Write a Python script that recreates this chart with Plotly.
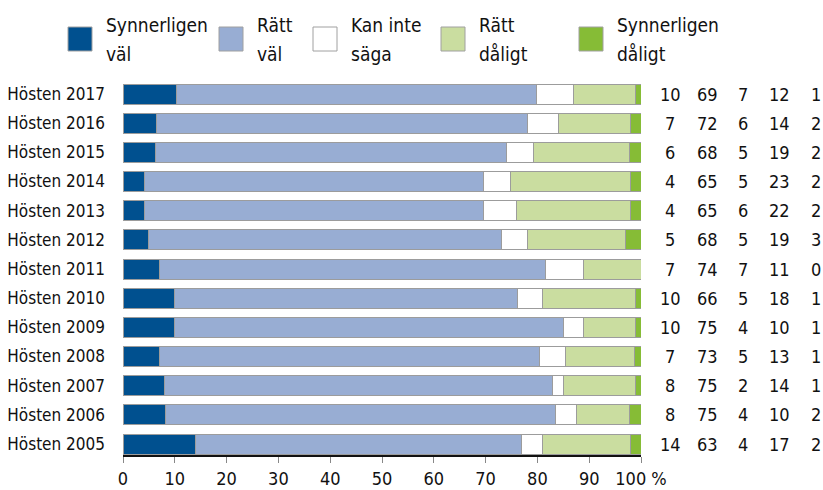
import plotly.graph_objects as go

# ---- data ----
categories = ["Hösten 2017", "Hösten 2016", "Hösten 2015", "Hösten 2014", "Hösten 2013",
              "Hösten 2012", "Hösten 2011", "Hösten 2010", "Hösten 2009", "Hösten 2008",
              "Hösten 2007", "Hösten 2006", "Hösten 2005"]
series_names = ["Synnerligen<br>väl", "Rätt<br>väl", "Kan inte<br>säga", "Rätt<br>dåligt", "Synnerligen<br>dåligt"]

# bar lengths (unrounded shares)
synnerligen_val = [10.3, 6.5, 6.3, 4.2, 4.2, 4.9, 7.1, 9.95, 9.95, 7.1, 8.0, 8.2, 13.9]
ratt_val        = [69.5, 71.5, 67.8, 65.4, 65.4, 68.1, 74.5, 66.2, 75.0, 73.3, 75.0, 75.3, 63.1]
kan_inte_saga   = [7.1, 6.0, 5.1, 5.3, 6.4, 5.0, 7.3, 4.9, 4.0, 5.1, 2.0, 4.1, 4.0]
ratt_daligt     = [12.0, 14.0, 18.5, 23.0, 21.9, 19.0, 11.1, 17.9, 10.0, 13.2, 13.9, 10.2, 16.9]
synnerligen_dal = [1.1, 2.0, 2.3, 2.1, 2.1, 3.0, 0.0, 1.1, 1.1, 1.3, 1.1, 2.3, 2.1]

# printed (rounded) values in the right-hand table
label_sv = [10, 7, 6, 4, 4, 5, 7, 10, 10, 7, 8, 8, 14]
label_rv = [69, 72, 68, 65, 65, 68, 74, 66, 75, 73, 75, 75, 63]
label_ki = [7, 6, 5, 5, 6, 5, 7, 5, 4, 5, 2, 4, 4]
label_rd = [12, 14, 19, 23, 22, 19, 11, 18, 10, 13, 14, 10, 17]
label_sd = [1, 2, 2, 2, 2, 3, 0, 1, 1, 1, 1, 2, 2]

x_tickvals = [0, 10, 20, 30, 40, 50, 60, 70, 80, 90, 100]
x_ticktext = ["0", "10", "20", "30", "40", "50", "60", "70", "80", "90", "100 %"]

# ---- styling ----
colors = ["#00508f", "#98add3", "#ffffff", "#cadda0", "#86bc36"]
FONT = "DejaVu Sans Condensed, Liberation Sans Narrow, Arial Narrow, sans-serif"
FS = 18
W, H = 823, 490
L, R, T, B = 123, 182, 80, 35
PW, PH = W - L - R, H - T - B


def px_x(px):
    return (px - L) / PW


def px_y(py):
    return (H - B - py) / PH


bar_series = [synnerligen_val, ratt_val, kan_inte_saga, ratt_daligt, synnerligen_dal]
label_series = [label_sv, label_rv, label_ki, label_rd, label_sd]

fig = go.Figure()
for name, vals, col in zip(series_names, bar_series, colors):
    fig.add_trace(go.Bar(
        y=categories, x=vals, orientation="h", name=name,
        marker=dict(color=col, line=dict(color="#9c9c9c", width=1)),
        width=0.686, showlegend=False,
    ))

annotations = []
# right-hand value table
col_px = [670, 707, 743, 779, 816]
for cx, labs in zip(col_px, label_series):
    for cat, v in zip(categories, labs):
        annotations.append(dict(
            x=px_x(cx), xref="paper", y=cat, yref="y", text=str(v),
            showarrow=False, xanchor="center", yanchor="middle",
            font=dict(family=FONT, size=FS, color="#111111"),
        ))

# manual legend
shapes = []
swatch_left = [68, 219, 313, 441, 579]
line_mid_px = [25, 54]
for sx, name, col in zip(swatch_left, series_names, colors):
    shapes.append(dict(
        type="rect", xref="paper", yref="paper",
        x0=px_x(sx), x1=px_x(sx + 24), y0=px_y(51), y1=px_y(27),
        fillcolor=col, line=dict(color="#a0a0a0", width=1),
    ))
    for part, ym in zip(name.split("<br>"), line_mid_px):
        annotations.append(dict(
            x=px_x(sx + 38), xref="paper", y=px_y(ym), yref="paper", text=part,
            showarrow=False, xanchor="left", yanchor="middle", align="left",
            xshift=-2, font=dict(family=FONT, size=19, color="#111111"),
        ))

fig.update_layout(
    width=W, height=H,
    margin=dict(l=L, r=R, t=T, b=B, pad=0, autoexpand=False),
    barmode="stack",
    paper_bgcolor="white", plot_bgcolor="white",
    font=dict(family=FONT, size=FS, color="#111111"),
    annotations=annotations, shapes=shapes,
    xaxis=dict(
        range=[0, 100], tickvals=x_tickvals, ticktext=x_ticktext,
        showgrid=False, zeroline=False, automargin=False,
        showline=True, linecolor="#111111", linewidth=2,
        ticks="outside", ticklen=6, tickcolor="#888888", tickwidth=1,
        ticklabelstandoff=0,
        tickfont=dict(family=FONT, size=FS, color="#111111"),
    ),
    yaxis=dict(
        type="category", range=[12.377, -0.48], automargin=False,
        showgrid=False, zeroline=False, showline=False,
        ticks="", ticklabelstandoff=17,
        tickfont=dict(family=FONT, size=17, color="#111111"),
    ),
)

fig.write_html(
    "out.html",
    config={"displayModeBar": False},
    post_script="document.body.style.margin='0';document.body.style.overflow='hidden';",
)
